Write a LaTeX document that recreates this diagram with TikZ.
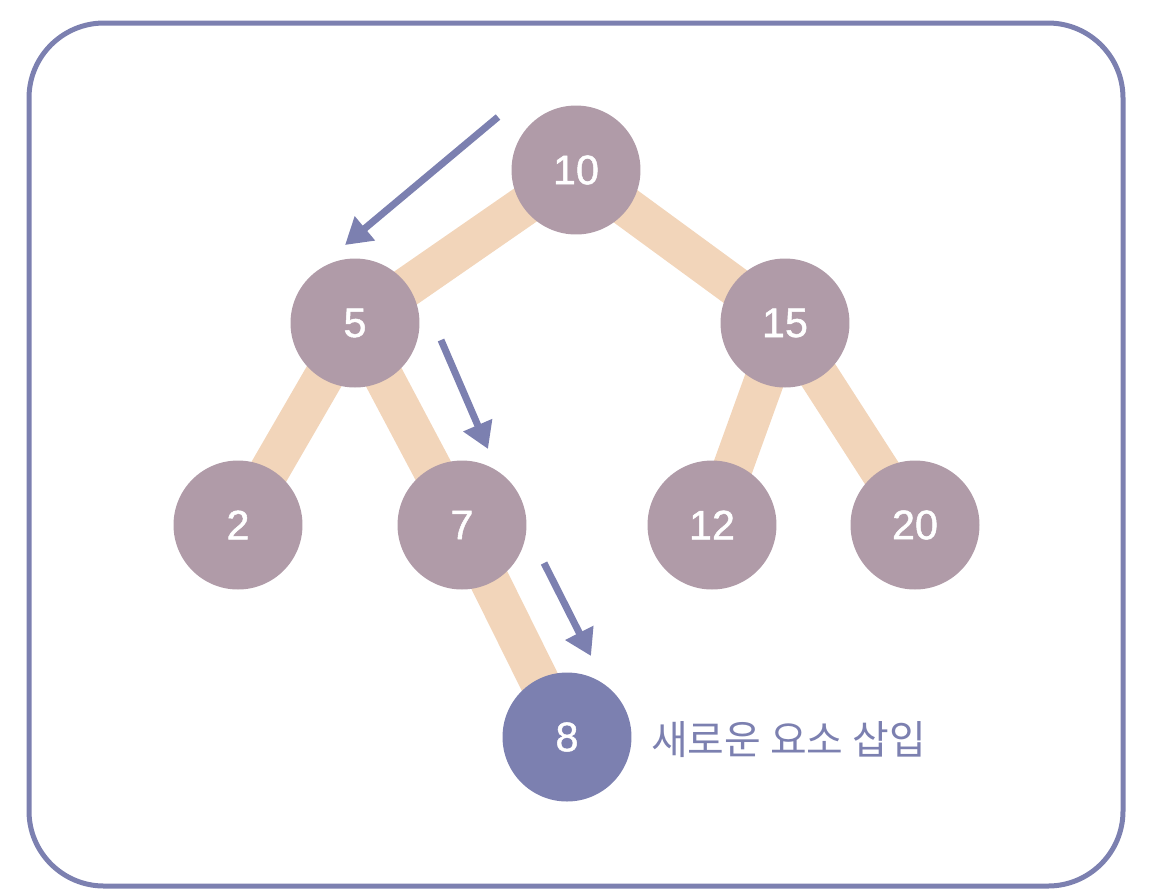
\documentclass[tikz,border=0pt]{standalone}
\usepackage{fontspec}
\setmainfont{Liberation Sans}
\newfontfamily\numfont[FakeBold=1.2]{Liberation Sans}
\newfontfamily\kofont{Noto Sans CJK KR}
\usetikzlibrary{arrows.meta,positioning,backgrounds}
\definecolor{keyfill}{RGB}{176,155,168}
\definecolor{linkband}{RGB}{242,213,186}
\definecolor{inkblue}{RGB}{124,128,176}

\begin{document}
\begin{tikzpicture}[
  x=0.02cm, y=-0.02cm,
  key/.style={circle, fill=keyfill, minimum size=2.58cm, inner sep=0pt,
              text=white, font=\numfont\fontsize{23.5}{26}\selectfont},
  newkey/.style={key, fill=inkblue},
  link/.style={draw=linkband, line width=0.8cm},
  walk/.style={draw=inkblue, line width=0.14cm,
               -{Triangle[length=0.52cm,width=0.6cm]}},
  frame/.style={draw=inkblue, line width=0.1cm, rounded corners=1.5cm}
]
\useasboundingbox (0,0) rectangle (1176,894);
\draw[frame] (29,23) rectangle (1123,886);

\node[key] (n10) at (576,170) {10};
\node[key] (n5)  at (355,323) {5};
\node[key] (n15) at (785,323) {15};
\node[key] (n2)  at (238,525) {2};
\node[key] (n7)  at (462,525) {7};
\node[key] (n12) at (712,525) {12};
\node[key] (n20) at (915,525) {20};
\node[newkey] (n8) at (567,737) {8};
\node[anchor=west, text=inkblue, font=\kofont\fontsize{22.7}{25}\selectfont]
  (note) at (645,740) {새로운 요소 삽입};

\begin{scope}[on background layer]
\draw[link] (n10.center) -- (n5.center);
\draw[link] (n10.center) -- (n15.center);
\draw[link] (n5.center) -- (n2.center);
\draw[link] (n5.center) -- (n7.center);
\draw[link] (n15.center) -- (n12.center);
\draw[link] (n15.center) -- (n20.center);
\draw[link] (n7.center) -- (n8.center);
\end{scope}

\coordinate (s1) at (498,117);  \coordinate (e1) at (345,245);
\coordinate (s2) at (441,340);  \coordinate (e2) at (488,449);
\coordinate (s3) at (544,563);  \coordinate (e3) at (591,656);
\draw[walk] (s1) -- (e1);
\draw[walk] (s2) -- (e2);
\draw[walk] (s3) -- (e3);
\end{tikzpicture}
\end{document}
